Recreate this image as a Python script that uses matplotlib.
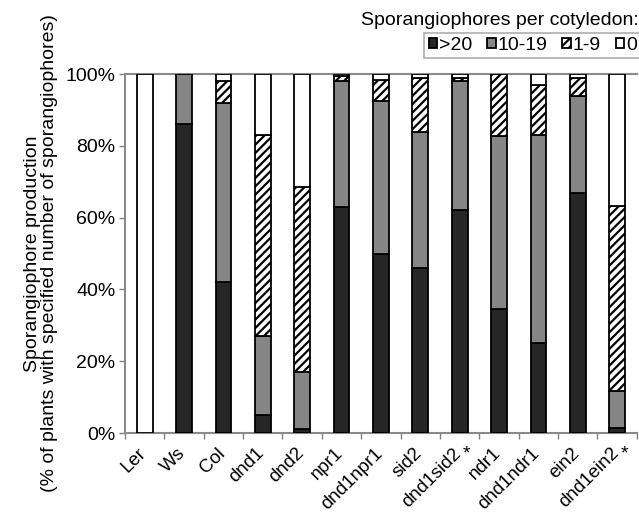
import matplotlib
matplotlib.use("Agg")
import matplotlib.pyplot as plt
from matplotlib.transforms import ScaledTranslation
import numpy as np

plt.rcParams['font.family'] = ['Liberation Sans', 'DejaVu Sans']
plt.rcParams['hatch.linewidth'] = 1.6

genotypes = ["Ler", "Ws", "Col", "dnd1", "dnd2", "npr1", "dnd1npr1", "sid2",
             "dnd1sid2", "ndr1", "dnd1ndr1", "ein2", "dnd1ein2"]
starred = ["dnd1sid2", "dnd1ein2"]

# percent of plants in each sporangiophore class
over20 = [0, 86, 42, 5, 1, 63, 50, 46, 62, 34.5, 25, 67, 1.3]
s10_19 = [0, 14, 50, 22, 16, 35, 42.6, 38, 36, 48.2, 58, 27, 10.4]
s1_9 = [0, 0, 6, 56, 51.5, 1.5, 5.7, 15, 1, 17.3, 14, 4.8, 51.6]
zero = [100, 0, 2, 17, 31.5, 0.5, 1.7, 1, 1, 0, 3, 1.2, 36.7]

classes = [">20", "10-19", "1-9", "0"]
series = [over20, s10_19, s1_9, zero]
styles = [dict(color="#262626", hatch=None),
          dict(color="#858585", hatch=None),
          dict(color="white", hatch="////"),
          dict(color="white", hatch=None)]

FS = 14

fig = plt.figure(figsize=(6.39, 5.18), dpi=100)
ax = fig.add_axes([0.1956, 0.164, 0.801, 0.693])

x = np.arange(len(genotypes)) + 0.5
bottom = np.zeros(len(genotypes))
handles = []
for name, vals, st in zip(classes, series, styles):
    vals = np.array(vals, dtype=float)
    b = ax.bar(x, vals, width=0.4, bottom=bottom, color=st["color"],
               hatch=st["hatch"], edgecolor="black", linewidth=1.3,
               label=name, zorder=3)
    handles.append(b)
    bottom += vals

ax.set_xlim(0, len(genotypes))
ax.set_ylim(0, 100)
ax.set_yticks([0, 20, 40, 60, 80, 100])
ax.set_yticklabels(["0%", "20%", "40%", "60%", "80%", "100%"], fontsize=FS)
ax.tick_params(axis="y", length=4, width=1, color="#808080", pad=3)

ax.set_xticks(x)
ax.set_xticklabels(genotypes, rotation=45, ha="right", rotation_mode="anchor",
                   fontsize=13.5)
ax.tick_params(axis="x", which="major", length=0, pad=7)
shift = ScaledTranslation(-0.07, -0.02, fig.dpi_scale_trans)
for lab in ax.get_xticklabels():
    lab.set_transform(lab.get_transform() + shift)
ax.set_xticks(np.arange(len(genotypes) + 1), minor=True)
ax.tick_params(axis="x", which="minor", length=4, width=1, color="#808080")

# asterisks marking the starred genotypes
for g in starred:
    i = genotypes.index(g)
    ax.annotate("*", xy=(x[i], 0), xycoords=("data", "axes fraction"),
                xytext=(5, -9), textcoords="offset points", ha="center",
                va="top", fontsize=FS)

for side in ["left", "bottom", "top"]:
    ax.spines[side].set_color("#8a8a8a")
    ax.spines[side].set_linewidth(1.5)
ax.spines["right"].set_visible(False)

ax.set_ylabel("Sporangiophore production\n(% of plants with specified number of sporangiophores)",
              fontsize=FS, labelpad=5, linespacing=1.0)

fig.text(1.0, 0.960, "Sporangiophores per cotyledon:", ha="right", va="center",
         fontsize=FS)
leg = fig.legend(handles=handles, labels=classes, ncol=4, loc="center left",
                 bbox_to_anchor=(0.664, 0.912), fontsize=FS, frameon=True,
                 fancybox=False, edgecolor="#9a9a9a", handlelength=0.45,
                 handleheight=0.45, handletextpad=0.1, columnspacing=0.75,
                 borderpad=0.22, borderaxespad=0)
leg.get_frame().set_linewidth(1.2)

fig.savefig("out.png", dpi=100)
